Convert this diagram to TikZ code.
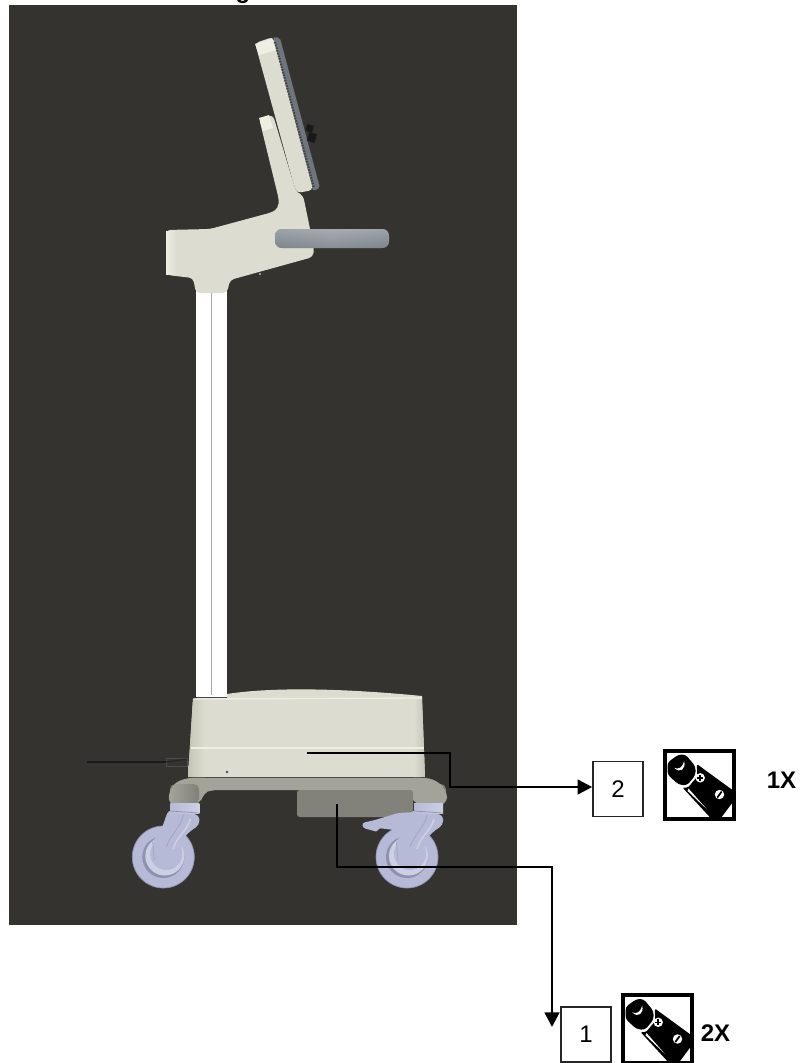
\documentclass[tikz,border=0pt]{standalone}
\usepackage{fontspec}
\setmainfont{Liberation Sans}
\usepackage{xcolor}
\usepackage{tikz}
\usetikzlibrary{arrows.meta,positioning}

\definecolor{backdrop}{HTML}{353330}
\definecolor{cream}{HTML}{DCDCD0}
\definecolor{creamlight}{HTML}{EEEEE2}
\definecolor{creamdark}{HTML}{C4C4B6}
\definecolor{steel}{HTML}{8E959C}
\definecolor{steeldark}{HTML}{6F757D}
\definecolor{framegrey}{HTML}{A3A39A}
\definecolor{boxgrey}{HTML}{82827B}
\definecolor{castor}{HTML}{B6BAD6}
\definecolor{castorlight}{HTML}{CDD0E4}
\definecolor{castordark}{HTML}{8E92AE}

\tikzset{
  numbox/.style={rectangle,draw=black!85,fill=white,line width=1.2pt,inner sep=0pt,
                 minimum width=37.5pt,minimum height=41pt,font=\fontsize{18}{20}\selectfont},
  iconbox/.style={rectangle,draw=black,fill=white,line width=3pt,inner sep=0pt,
                 minimum width=52pt,minimum height=51pt},
  qty/.style={inner sep=0pt,font=\fontsize{18}{20}\selectfont\bfseries},
  leader/.style={line width=2pt,black},
  leaderarr/.style={leader,-{Triangle[length=11pt,width=11pt]}},
  pics/batteryicon/.style={code={
    \fill[black,rounded corners=2.5pt] (-32,-22) -- (-21,-30) -- (-14,-30) -- (-4,-18) -- (-4,-9.3) -- (-12.7,1) -- (-21,0) -- (-32,-10) -- cycle;
    \fill[black,rounded corners=1pt] (-2.7,-20.5) -- (35,7) -- (36,14) -- (20.7,34.5) -- (12,34.5) -- (-17,3) -- (-11.5,3) -- (-2.2,-8) -- cycle;
    \fill[white] (-25.3,-16.7) .. controls (-21,-14.5) and (-17,-17) .. (-15.3,-23.3) .. controls (-13.5,-16) and (-19,-10.5) .. (-25.3,-16.7);
    \fill[white] (.7,-6.7) circle (4.7);
    \fill[white] (20,10) circle (4.7);
    \draw[black,line width=1.1pt] (-2.3,-6.7) -- (3.7,-6.7) (.7,-9.7) -- (.7,-3.7);
    \draw[black,line width=1.3pt] (17.8,13) -- (22.2,7);
    \fill[white] (-11,4) -- (7.3,24.7) -- (-12,6.3) -- cycle;
  }},
  pics/casterwheel/.style={code={
    \fill[castor] (0,0) circle (31);
    \draw[castordark,line width=0.5pt] (0,0) circle (31);
    \fill[castordark] (0,0) circle (21);
    \fill[castorlight] (1.5,-1) circle (19.5);
    \fill[castor] (3,-3) circle (16);
    \fill[castor,rounded corners=3pt] (5,-47) -- (36,-42) -- (36,-32) -- (27,-26) -- (19,-18) -- (17,1) -- (5,10) -- (-9,3) -- (-10.7,-15.7) -- (-1.7,-28) -- cycle;
    \draw[castordark!60!castor,line width=0.5pt] (20,-42) .. controls (18,-30) and (8,-24) .. (3,-10) (-10.7,-15.7) -- (-9,3);
    \draw[castorlight,line width=1.2pt] (27,-38) .. controls (24,-26) and (14,-22) .. (10,-8);
    \shade[left color=castor,right color=castorlight] (7,-54) rectangle (36,-44);
    \draw[castordark,line width=0.5pt] (7,-46) -- (36,-44);
  }}
}

\begin{document}
\begin{tikzpicture}[x=0.75pt,y=-0.75pt]
  \useasboundingbox (0,0) rectangle (803,1063);
  \fill[white] (0,0) rectangle (803,1063);
  \node[inner sep=0pt,anchor=base,font=\fontsize{18}{20}\selectfont\bfseries] (title) at (243,-1) {g};
  \fill[backdrop] (9,5) rectangle (517,925);

  % pole
  \fill[white] (196,285) rectangle (227,697);
  \draw[black!35,line width=0.7pt] (211,293) -- (211,695);

  % head, arm and screen
  \fill[cream,rounded corners=3pt] (259,118) -- (273,115) -- (293,182) -- (297,193) -- (303,195) -- (314,248) -- (313,257) -- (230,280) -- (227,293) -- (196,293) -- (193,278) -- (167,275) -- (166,230) -- (210,229) -- (273,212) -- (278,208) -- (279,200) -- cycle;
  \fill[creamlight] (259,118) -- (269,115) -- (273,128) -- (263,131) -- cycle;
  \shade[left color=creamlight,right color=cream] (166,231) rectangle (177,274);
  \fill[steeldark,rounded corners=1.5pt] (273,37) -- (280,38) -- (320,188) -- (313,191) -- cycle;
  \fill[cream,rounded corners=3pt] (255,43) -- (273,37) -- (313,190) -- (297,193) -- (293,182) -- cycle;
  \fill[creamlight] (255,44) -- (272,38) -- (276,50) -- (259,55) -- cycle;
  \draw[black!75,line width=1.5pt,dash pattern=on 1.2pt off 0.9pt] (275,42) -- (314,188);
  \fill[black!90,rotate around={-15:(310,129)}] (306,125) rectangle (313,132);
  \fill[black!90,rotate around={-15:(312,137)}] (308,133) rectangle (316,142);
  \fill[white] (260,274) circle (0.9);

  % tray
  \shade[left color=steel,right color=steel,middle color=steel!80!white,rounded corners=5pt] (275,229) rectangle (389,248);
  \shade[top color=steel!75!white,bottom color=steeldark,opacity=0.5,rounded corners=5pt] (275,229) rectangle (389,248);

  % base
  \fill[cream] (227,694) .. controls (265,688) and (330,687) .. (422,696) -- (422,700) -- (227,700) -- cycle;
  \fill[framegrey,rounded corners=6pt] (168,805) -- (170,787) -- (183,778) -- (433,778) -- (447,790) -- (447,805) -- (415,805) -- (408,790) -- (210,790) -- (203,793) -- (200,805) -- cycle;
  \shade[left color=framegrey,middle color=framegrey!45!white,right color=framegrey!70!black,rounded corners=4pt,opacity=0.7] (170,784) rectangle (199,804);
  \shade[left color=framegrey,middle color=framegrey!45!white,right color=framegrey,rounded corners=4pt,opacity=0.7] (416,784) rectangle (446,804);
  \fill[boxgrey,rounded corners=2pt] (297,790) rectangle (413,817);
  \fill[cream,rounded corners=3pt] (193,698) -- (422,697) -- (425,777) -- (188,777) -- cycle;
  \shade[left color=creamdark,right color=cream] (193,699) -- (205,699) -- (205,777) -- (188,777) -- cycle;
  \shade[left color=cream,right color=creamdark] (414,699) -- (422,699) -- (425,777) -- (414,777) -- cycle;
  \draw[creamlight,line width=1pt] (193,699) -- (422,698);
  \draw[creamlight,line width=1pt] (191,748) -- (424,748);
  \fill[black!70] (227,772) circle (1.3);
  \fill[white!85!black] (386,772) circle (1.5);

  % cable
  \draw[black!90,line width=1.2pt] (87,762) -- (166,762);
  \draw[black!70,line width=0.5pt] (166,758) rectangle (187,766);
  \draw[black!85,line width=0.9pt] (166,762) -- (187,759);

  % casters
  \pic at (163.3,857) {casterwheel};
  \pic at (407,857) {casterwheel};
  \fill[castor,rounded corners=2pt] (362,823) -- (375,820) -- (398,813) -- (415,812) -- (410,832) -- (378,828) -- (378,832) -- (363,828) -- cycle;

  % labels
  \node[numbox] (box2) at (618,789) {2};
  \node[iconbox] (icon2) at (699.5,784.5) {};
  \pic at (icon2.center) {batteryicon};
  \node[qty] (qty2) at (781.5,780) {1X};

  \node[numbox] (box1) at (586,1034.5) {1};
  \node[iconbox] (icon1) at (657.5,1029) {};
  \pic at (icon1.center) {batteryicon};
  \node[qty] (qty1) at (715.5,1033) {2X};

  % leaders
  \coordinate (start2) at (307,753);
  \coordinate (elbow2) at (450,787);
  \coordinate (start1) at (337,804);
  \coordinate (elbow1) at (552,867);
  \coordinate (tip1) at (552,1027);
  \draw[leaderarr] (start2) -| (elbow2) -- (elbow2 -| box2.west);
  \draw[leaderarr] (start1) |- (elbow1) -- (tip1);
\end{tikzpicture}
\end{document}
